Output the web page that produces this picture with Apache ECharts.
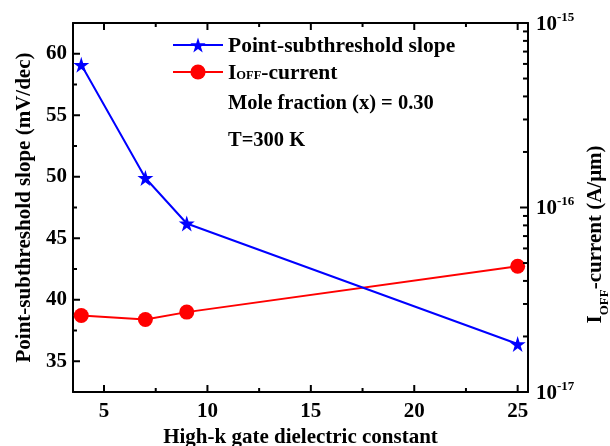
<!DOCTYPE html>
<html>
<head>
<meta charset="utf-8">
<script src="https://cdn.jsdelivr.net/npm/echarts@6/dist/echarts.min.js"></script>
<style>
  html, body { margin: 0; padding: 0; background: #fff; }
  #chart { width: 610px; height: 446px; }
</style>
</head>
<body>
<div id="chart"></div>
<script>
// High-k gate dielectric constant of each gate stack
const kValues = [3.9, 7, 9, 25];
// Point-subthreshold slope (mV/dec)
const slopeValues = [59.1, 49.9, 46.2, 36.4];
// OFF-state current (A/um)
const ioffValues = [2.60e-17, 2.47e-17, 2.71e-17, 4.8e-17];

// Tick positions
const xMajorTicks = [5, 10, 15, 20, 25];
const xMinorTicks = [7.5, 12.5, 17.5, 22.5];
const yMajorTicks = [35, 40, 45, 50, 55, 60];
const yMinorTicks = [37.5, 42.5, 47.5, 52.5, 57.5];
const logMajorTicks = [1e-17, 1e-16, 1e-15];
const logMinorTicks = [2e-17, 3e-17, 4e-17, 5e-17, 6e-17, 7e-17, 8e-17, 9e-17,
                       2e-16, 3e-16, 4e-16, 5e-16, 6e-16, 7e-16, 8e-16, 9e-16];

const X_RANGE = [3.5, 25.5];
const Y_RANGE = [32.5, 62.5];
const LOG_RANGE = [1e-17, 1e-15];

const FONT = '"Liberation Serif", "Times New Roman", serif';
const STAR = 'path://M50,0 L61.2,34.5 L97.6,34.5 L68.2,55.9 L79.4,90.5 L50,69.1 L20.6,90.5 L31.8,55.9 L2.4,34.5 L38.8,34.5 Z';
const axisLineStyle = { color: '#000', width: 2 };
const boldText = (size) => ({ color: '#000', fontFamily: FONT, fontWeight: 'bold', fontSize: size });

const chart = echarts.init(document.getElementById('chart'), null, { renderer: 'canvas' });

const option = {
  backgroundColor: '#fff',
  animation: false,
  grid: { left: 73, top: 23, right: 82, bottom: 54, containLabel: false, outerBoundsMode: 'none' },
  xAxis: [
    {
      type: 'value', position: 'bottom', min: X_RANGE[0], max: X_RANGE[1],
      axisLine: { show: true, onZero: false, lineStyle: axisLineStyle },
      axisTick: { show: false },
      axisLabel: Object.assign({ customValues: xMajorTicks, margin: 9 }, boldText(21)),
      splitLine: { show: false },
      name: 'High-k gate dielectric constant', nameLocation: 'middle', nameGap: 28,
      nameTextStyle: boldText(21)
    },
    {
      type: 'value', position: 'top', min: X_RANGE[0], max: X_RANGE[1],
      axisLine: { show: true, onZero: false, lineStyle: axisLineStyle },
      axisTick: { show: false }, axisLabel: { show: false }, splitLine: { show: false }
    }
  ],
  yAxis: [
    {
      type: 'value', position: 'left', min: Y_RANGE[0], max: Y_RANGE[1],
      axisLine: { show: true, onZero: false, lineStyle: axisLineStyle },
      axisTick: { show: false },
      axisLabel: Object.assign({ customValues: yMajorTicks, margin: 6 }, boldText(21)),
      splitLine: { show: false },
      name: 'Point-subthreshold slope (mV/dec)', nameLocation: 'middle', nameGap: 38,
      nameTextStyle: boldText(21)
    },
    {
      type: 'log', position: 'right', min: LOG_RANGE[0], max: LOG_RANGE[1], logBase: 10,
      axisLine: { show: true, onZero: false, lineStyle: axisLineStyle },
      axisTick: { show: false },
      axisLabel: {
        customValues: logMajorTicks, margin: 8,
        formatter: (v) => '{b|10}{s|' + Math.round(Math.log10(v)) + '}',
        rich: {
          b: Object.assign({ lineHeight: 24, verticalAlign: 'bottom' }, boldText(21)),
          s: Object.assign({ lineHeight: 24, verticalAlign: 'top' }, boldText(13))
        }
      },
      splitLine: { show: false },
      name: '{b|I}{sub|OFF}{b|-current (A/\u03bcm)}', nameLocation: 'middle', nameGap: 54,
      nameRotate: 90,
      nameTextStyle: {
        padding: [0, 54, 0, 0],
        rich: {
          b: Object.assign({ lineHeight: 26, verticalAlign: 'top' }, boldText(21)),
          sub: Object.assign({ lineHeight: 26, verticalAlign: 'bottom' }, boldText(13))
        }
      }
    }
  ],
  legend: {
    orient: 'vertical', left: 172, top: 35, itemGap: 5, padding: 0,
    itemWidth: 50, itemHeight: 19,
    data: ['slope', 'ioff'],
    formatter: (name) => name === 'slope'
      ? '{m|Point-subthreshold slope}'
      : '{m|I}{sub|OFF}{m|-current}',
    textStyle: {
      rich: {
        m: Object.assign({ lineHeight: 20, verticalAlign: 'top' }, boldText(21.5)),
        sub: Object.assign({ lineHeight: 20, verticalAlign: 'bottom' }, boldText(12.5))
      }
    }
  },
  series: [
    {
      name: 'ioff', type: 'line', xAxisIndex: 0, yAxisIndex: 1,
      data: kValues.map((k, i) => [k, ioffValues[i]]),
      symbol: 'circle', symbolSize: 15,
      itemStyle: { color: '#ff0000' },
      lineStyle: { color: '#ff0000', width: 2 }
    },
    {
      name: 'slope', type: 'line', xAxisIndex: 0, yAxisIndex: 0,
      data: kValues.map((k, i) => [k, slopeValues[i]]),
      symbol: STAR, symbolSize: 16,
      itemStyle: { color: '#0000ff' },
      lineStyle: { color: '#0000ff', width: 2 }
    }
  ]
};

chart.setOption(option);

// Inward ticks on all four sides, placed through the axes' own value-to-pixel mapping
function buildTicks() {
  const px = (v) => chart.convertToPixel({ xAxisIndex: 0 }, v);
  const pyL = (v) => chart.convertToPixel({ yAxisIndex: 0 }, v);
  const pyR = (v) => chart.convertToPixel({ yAxisIndex: 1 }, v);
  const xLeft = px(X_RANGE[0]), xRight = px(X_RANGE[1]);
  const yTop = pyL(Y_RANGE[1]), yBottom = pyL(Y_RANGE[0]);
  const items = [];
  const seg = (x1, y1, x2, y2) => items.push({
    type: 'line', silent: true, z: 10,
    shape: { x1: x1, y1: y1, x2: x2, y2: y2 },
    style: { stroke: '#000', lineWidth: 2 }
  });
  xMajorTicks.forEach((v) => { const x = px(v); seg(x, yBottom, x, yBottom - 7); seg(x, yTop, x, yTop + 7); });
  xMinorTicks.forEach((v) => { const x = px(v); seg(x, yBottom, x, yBottom - 4); seg(x, yTop, x, yTop + 4); });
  yMajorTicks.forEach((v) => { const y = pyL(v); seg(xLeft, y, xLeft + 7, y); });
  yMinorTicks.forEach((v) => { const y = pyL(v); seg(xLeft, y, xLeft + 4, y); });
  logMajorTicks.forEach((v) => { const y = pyR(v); seg(xRight, y, xRight - 8, y); });
  logMinorTicks.forEach((v) => { const y = pyR(v); seg(xRight, y, xRight - 5, y); });
  return items;
}

const notes = [
  { type: 'text', left: 228, top: 93, style: { text: 'Mole fraction (x) = 0.30', fill: '#000', font: 'bold 20.5px ' + FONT } },
  { type: 'text', left: 228, top: 130, style: { text: 'T=300 K', fill: '#000', font: 'bold 20.5px ' + FONT } }
];

chart.setOption({ graphic: notes.concat(buildTicks()) });
</script>
</body>
</html>
